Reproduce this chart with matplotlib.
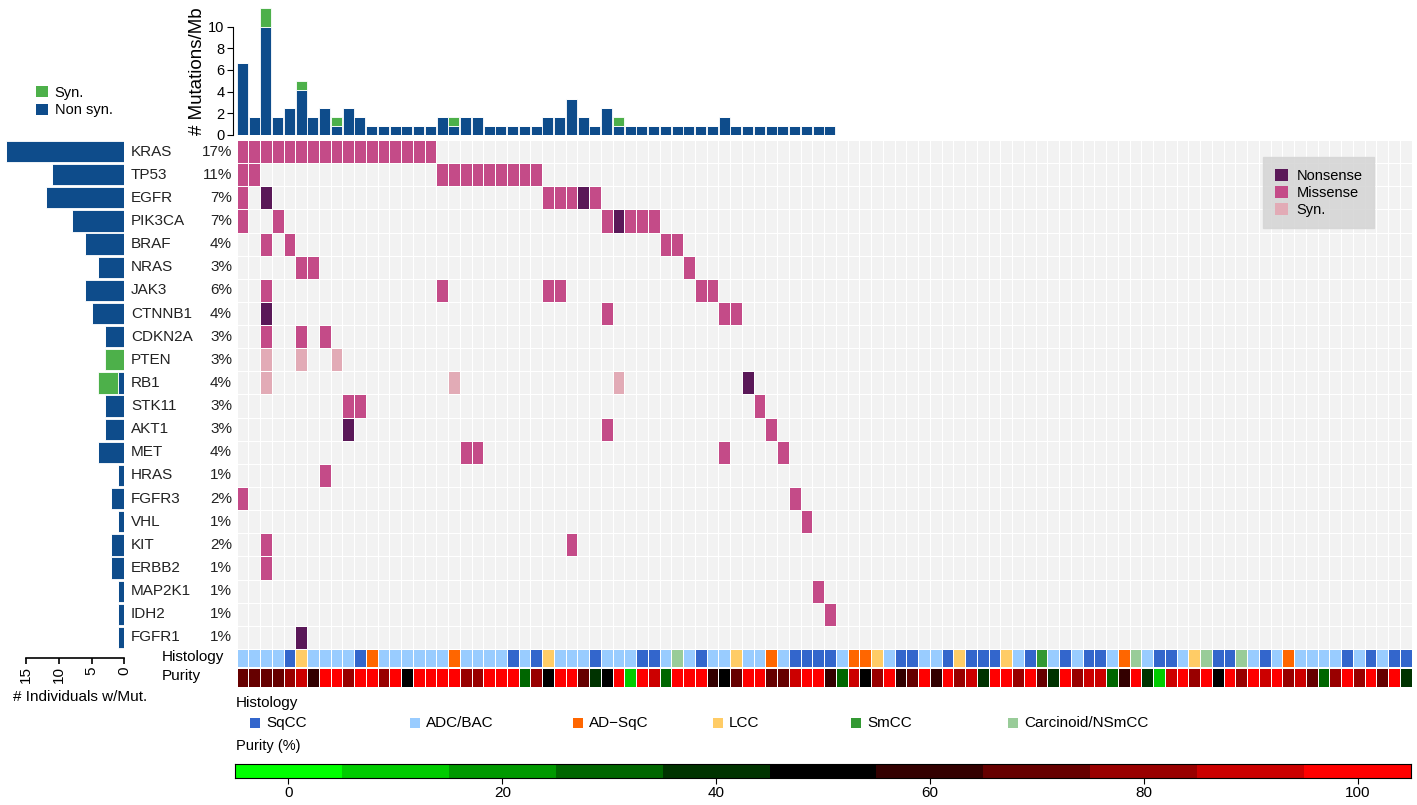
import numpy as np
import matplotlib.pyplot as plt
from matplotlib.colors import ListedColormap, BoundaryNorm
from matplotlib.patches import Patch, Rectangle

plt.rcParams['font.family'] = ['Liberation Sans', 'DejaVu Sans']

W, H = 1417, 805
N_SAMPLES = 100

# ---------- data ----------
genes = ["KRAS", "TP53", "EGFR", "PIK3CA", "BRAF", "NRAS", "JAK3", "CTNNB1",
         "CDKN2A", "PTEN", "RB1", "STK11", "AKT1", "MET", "HRAS", "FGFR3",
         "VHL", "KIT", "ERBB2", "MAP2K1", "IDH2", "FGFR1"]
pct_labels = ["17%", "11%", "7%", "7%", "4%", "3%", "6%", "4%", "3%", "3%", "4%",
              "3%", "3%", "4%", "1%", "2%", "1%", "2%", "1%", "1%", "1%", "1%"]

# sample columns carrying each mutation type
missense = {
    "KRAS": [0, 1, 2, 3, 4, 5, 6, 7, 8, 9, 10, 11, 12, 13, 14, 15, 16],
    "TP53": [0, 1, 17, 18, 19, 20, 21, 22, 23, 24, 25],
    "EGFR": [0, 26, 27, 28, 30],
    "PIK3CA": [0, 3, 31, 33, 34, 35],
    "BRAF": [2, 4, 36, 37],
    "NRAS": [5, 6, 38],
    "JAK3": [2, 17, 26, 27, 39, 40],
    "CTNNB1": [31, 41, 42],
    "CDKN2A": [2, 5, 7],
    "STK11": [9, 10, 44],
    "AKT1": [31, 45],
    "MET": [19, 20, 41, 46],
    "HRAS": [7],
    "FGFR3": [0, 47],
    "VHL": [48],
    "KIT": [2, 28],
    "ERBB2": [2],
    "MAP2K1": [49],
    "IDH2": [50],
}
nonsense = {
    "EGFR": [2, 29],
    "PIK3CA": [32],
    "CTNNB1": [2],
    "RB1": [43],
    "AKT1": [9],
    "FGFR1": [5],
}
synonymous = {
    "PTEN": [2, 5, 8],
    "RB1": [2, 18, 32],
}

# individuals with mutation (left bars)
ind_nonsyn = [18, 11, 12, 8, 6, 4, 6, 5, 3, 0, 1, 3, 3, 4, 1, 2, 1, 2, 2, 1, 1, 1]
ind_syn = [0, 0, 0, 0, 0, 0, 0, 0, 0, 3, 3, 0, 0, 0, 0, 0, 0, 0, 0, 0, 0, 0]

# mutations / Mb per sample (samples 0..50)
tmb_nonsyn = [6.67, 1.67, 10.0, 1.67, 2.5, 4.17, 1.67, 2.5, 0.83, 2.5,
              1.67, 0.83, 0.83, 0.83, 0.83, 0.83, 0.83, 1.67, 0.83, 1.67,
              1.67, 0.83, 0.83, 0.83, 0.83, 0.83, 1.67, 1.67, 3.33, 1.67,
              0.83, 2.5, 0.83, 0.83, 0.83, 0.83, 0.83, 0.83, 0.83, 0.83,
              0.83, 1.67, 0.83, 0.83, 0.83, 0.83, 0.83, 0.83, 0.83, 0.83,
              0.83]
tmb_syn = [0, 0, 1.67, 0, 0, 0.83, 0, 0, 0.83, 0,
           0, 0, 0, 0, 0, 0, 0, 0, 0.83, 0,
           0, 0, 0, 0, 0, 0, 0, 0, 0, 0,
           0, 0, 0.83, 0, 0, 0, 0, 0, 0, 0,
           0, 0, 0, 0, 0, 0, 0, 0, 0, 0,
           0]

hist_names = ["SqCC", "ADC/BAC", "AD\u2212SqC", "LCC", "SmCC", "Carcinoid/NSmCC"]
hist_codes = "SADLMC"
histology = ("AAAASLAAAA" "SDAAAAAADA" "AAASASLAAA" "SAAASSACAS" "AALAADASSS"
             "SADDLASSAA" "SLSSSLASMA" "SASSADCASS" "ALCSSCASAD" "AAAASASASS")
purity = [70, 70, 70, 70, 80, 90, 60, 100, 100, 80,
          100, 100, 80, 100, 50, 100, 100, 100, 100, 80,
          80, 100, 100, 100, 30, 80, 50, 100, 100, 70,
          40, 50, 100, 10, 100, 90, 30, 100, 100, 100,
          60, 50, 70, 100, 100, 70, 70, 90, 100, 100,
          60, 30, 90, 50, 80, 100, 60, 70, 100, 60,
          100, 80, 90, 40, 100, 100, 80, 100, 70, 40,
          100, 80, 90, 90, 30, 60, 100, 40, 10, 90,
          100, 80, 100, 50, 100, 80, 100, 90, 100, 80,
          90, 70, 30, 80, 100, 80, 100, 70, 100, 40]
purity_levels = [0, 10, 20, 30, 40, 50, 60, 70, 80, 90, 100]

# ---------- colours ----------
c_blue = "#0E4C8B"
c_green = "#4DB04A"
c_bg = "#F2F2F2"
c_nons = "#5A1858"
c_miss = "#C44B88"
c_syn = "#E2ABB6"
hist_colors = ["#3366CC", "#99CCFF", "#FF6600", "#FFCC66", "#339933", "#99CC99"]
purity_colors = ["#00FF00", "#00CC00", "#009900", "#006600", "#003300", "#000000",
                 "#330000", "#660000", "#990000", "#CC0000", "#FF0000"]

fig = plt.figure(figsize=(W / 100, H / 100), dpi=100)


def px_axes(x0, y0, x1, y1):
    return fig.add_axes([x0 / W, 1 - y1 / H, (x1 - x0) / W, (y1 - y0) / H])


GX0, GX1 = 236.5, 1411.5
GY0, GY1 = 140, 649
row_h = (GY1 - GY0) / len(genes)

# ---------- main oncoprint grid ----------
M = np.zeros((len(genes), N_SAMPLES))
for code, table in ((2, missense), (1, nonsense), (3, synonymous)):
    for g, cols in table.items():
        M[genes.index(g), cols] = code

ax = px_axes(GX0, GY0, GX1, GY1)
cmap = ListedColormap([c_bg, c_nons, c_miss, c_syn])
ax.pcolormesh(M, cmap=cmap, norm=BoundaryNorm([-0.5, 0.5, 1.5, 2.5, 3.5], 4),
              edgecolors="white", linewidth=0.7)
ax.set_xlim(0, N_SAMPLES)
ax.set_ylim(len(genes), 0)
ax.axis("off")

for i, (g, p) in enumerate(zip(genes, pct_labels)):
    y = (i + 0.5) / len(genes)
    ax.text(-(GX0 - 131) / (GX1 - GX0), 1 - y, g, transform=ax.transAxes,
            ha="left", va="center", fontsize=11, color="#222222")
    ax.text(-(GX0 - 232) / (GX1 - GX0), 1 - y, p, transform=ax.transAxes,
            ha="right", va="center", fontsize=11, color="#222222")

leg = ax.legend(handles=[Patch(facecolor=c_nons, label="Nonsense"),
                         Patch(facecolor=c_miss, label="Missense"),
                         Patch(facecolor=c_syn, label="Syn.")],
                loc="upper left", bbox_to_anchor=((1263 - GX0) / (GX1 - GX0), 1 - (157 - GY0) / (GY1 - GY0)),
                borderaxespad=0, fontsize=10.5, handlelength=0.9, handleheight=0.9,
                handletextpad=0.6, labelspacing=0.2, borderpad=0.8,
                fancybox=False, framealpha=0.9)
leg.get_frame().set_facecolor("#D6D6D6")
leg.get_frame().set_edgecolor("#D6D6D6")

# ---------- top bars: mutations / Mb ----------
axt = px_axes(GX0, 7, GX1, 135)
xs = np.arange(len(tmb_nonsyn)) + 0.5
axt.bar(xs, tmb_nonsyn, width=0.92, color=c_blue, edgecolor="white", linewidth=0.6)
axt.bar(xs, tmb_syn, bottom=tmb_nonsyn, width=0.92, color=c_green,
        edgecolor="white", linewidth=0.6)
axt.set_xlim(0, N_SAMPLES)
axt.set_ylim(0, 11.8)
for s in ("top", "right", "bottom"):
    axt.spines[s].set_visible(False)
axt.spines["left"].set_bounds(0, 10)
axt.spines["left"].set_position(("outward", 2.5))
axt.set_xticks([])
axt.set_yticks([0, 2, 4, 6, 8, 10])
axt.tick_params(axis="y", labelsize=10.5, length=4, pad=2)
axt.set_ylabel("# Mutations/Mb", fontsize=13.5, labelpad=2)

fig.legend(handles=[Patch(facecolor=c_green, label="Syn."),
                    Patch(facecolor=c_blue, label="Non syn.")],
           loc="upper left", bbox_to_anchor=(30 / W, 1 - 80 / H), frameon=False,
           fontsize=10.5, handlelength=0.8, handleheight=0.8, handletextpad=0.5,
           labelspacing=0.25, borderaxespad=0)

# ---------- left bars: individuals with mutation ----------
axl = px_axes(0, GY0, 124.3, 658)
ys = np.arange(len(genes)) + 0.5
axl.barh(ys, ind_nonsyn, height=0.92, color=c_blue, edgecolor="white", linewidth=0.6)
axl.barh(ys, ind_syn, left=ind_nonsyn, height=0.92, color=c_green,
         edgecolor="white", linewidth=0.6)
axl.set_ylim(len(genes) + 9 / row_h, 0)
axl.set_xlim(124.3 / 6.55, 0)
for s in ("top", "right", "left"):
    axl.spines[s].set_visible(False)
axl.spines["bottom"].set_bounds(0, 15)
axl.spines["bottom"].set_linewidth(1.2)
axl.set_yticks([])
axl.set_xticks([0, 5, 10, 15])
axl.tick_params(axis="x", labelsize=11, length=4, width=1.2, pad=2, labelrotation=90)
fig.text(80 / W, 1 - 697 / H, "# Individuals w/Mut.", fontsize=11,
         ha="center", va="center")

# ---------- histology / purity strips ----------
hist_idx = np.array([[hist_codes.index(c) for c in histology]])
axh = px_axes(GX0, 649, GX1, 667)
axh.pcolormesh(hist_idx, cmap=ListedColormap(hist_colors),
               norm=BoundaryNorm(np.arange(-0.5, 6.5, 1), 6),
               edgecolors="white", linewidth=0.7)
axh.set_xlim(0, N_SAMPLES)
axh.axis("off")

pur_cmap = ListedColormap(purity_colors)
pur_norm = BoundaryNorm(np.arange(-5, 115, 10), len(purity_colors))
axp = px_axes(GX0, 668, GX1, 687)
axp.pcolormesh(np.array([purity]), cmap=pur_cmap, norm=pur_norm,
               edgecolors="white", linewidth=0.7)
axp.set_xlim(0, N_SAMPLES)
axp.axis("off")

fig.text(162 / W, 1 - 657 / H, "Histology", fontsize=11, ha="left", va="center")
fig.text(162 / W, 1 - 676 / H, "Purity", fontsize=11, ha="left", va="center")

# ---------- bottom legends ----------
fig.text(236 / W, 1 - 703 / H, "Histology", fontsize=11, ha="left", va="center")
leg_x = [250, 410, 573, 713, 851, 1008]
for x, name, col in zip(leg_x, hist_names, hist_colors):
    fig.patches.append(Rectangle((x / W, 1 - 728 / H), 10 / W, 10 / H,
                                 transform=fig.transFigure, facecolor=col,
                                 edgecolor="none"))
    fig.text((x + 16) / W, 1 - 723 / H, name, fontsize=11, ha="left", va="center")

fig.text(236 / W, 1 - 746 / H, "Purity (%)", fontsize=10.5, ha="left", va="center")
axc = px_axes(235, 764, 1411, 778)
edges = np.append(np.array(purity_levels) - 5, purity_levels[-1] + 5)
axc.pcolormesh(edges, [0, 1], np.array([purity_levels]),
               cmap=pur_cmap, norm=pur_norm, edgecolors="none")
axc.set_xlim(-5, 105)
axc.set_ylim(0, 1)
axc.set_yticks([])
axc.set_xticks([0, 20, 40, 60, 80, 100])
axc.tick_params(axis="x", labelsize=11, length=4, pad=2)
for s in axc.spines.values():
    s.set_linewidth(0.8)

fig.savefig("out.png", dpi=100)
